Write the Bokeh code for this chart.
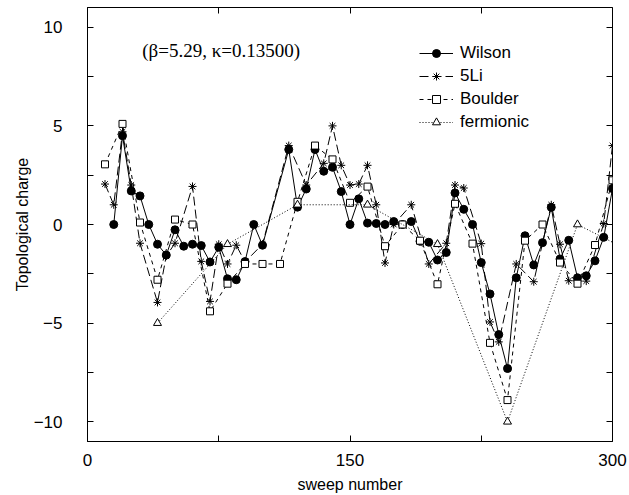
from bokeh.plotting import figure
from bokeh.models import (Range1d, LinearAxis, FixedTicker, Legend, LegendItem, Label)
from bokeh.embed import file_html
from bokeh.resources import INLINE

# ---- data ----
wilson_x = [15, 20, 25, 30, 35, 40, 45, 50, 55, 60, 65, 70, 75, 80, 85, 90, 95, 100,
            115, 120, 125, 130, 135, 140, 145, 150, 155, 160, 165, 170, 175, 180, 185,
            190, 195, 200, 205, 210, 215, 220, 225, 230, 235, 240, 245, 250, 255, 260,
            265, 270, 275, 280, 285, 290, 295, 300]
wilson_y = [0.0, 4.5, 1.7, 1.45, 0.0, -1.0, -1.55, -0.27, -1.1, -1.0, -1.07, -1.9, -1.15,
            -2.75, -2.8, -1.88, 0.0, -1.05,
            3.8, 0.88, 1.8, 3.8, 2.7, 2.9, 1.67, 0.0, 1.3, 0.07, 0.05, 0.0, 0.15, 0.0, 0.15,
            -0.85, -0.9, -1.8, -1.42, 1.6, 0.77, 0.0, -1.93, -3.52, -5.58, -7.3, -2.7,
            -0.57, -2.05, -0.92, 0.87, -1.75, -0.8, -2.7, -2.6, -1.84, -0.65, 1.82]

li5_x = [10, 15, 20, 25, 30, 40, 45, 50, 60, 65, 70, 75, 80, 85, 90, 100, 115, 125,
         135, 140, 145, 150, 155, 160, 165, 170, 175, 185, 195, 205, 210, 215, 225,
         230, 235, 245, 255, 265, 270, 275, 285, 295, 300]
li5_y = [2.05, 1.0, 4.7, 2.0, -0.95, -3.95, -1.6, -0.95, 1.93, -1.87, -3.9, -1.0, -2.0,
         -1.05, -1.9, -1.0, 4.0, 2.0, 3.1, 5.0, 3.0, 2.0, 2.05, 3.0, 1.0, -1.95, 0.0,
         1.0, -2.0, -0.95, 2.0, 1.85, -0.97, -4.94, -5.95, -2.0, -2.9, 1.0, -1.0,
         -2.85, -2.87, 0.05, 4.0]

boulder_x = [10, 20, 30, 40, 50, 60, 70, 80, 90, 100, 110, 120, 130, 140, 150, 160, 170,
             180, 190, 200, 210, 220, 230, 240, 250, 260, 270, 280, 290, 300]
boulder_y = [3.05, 5.1, 0.1, -2.8, 0.25, 0.0, -4.4, -3.0, -2.0, -2.0, -2.0, 1.15, 4.0,
             3.3, 1.1, 1.92, -1.1, 0.0, -0.82, -3.03, 1.05, -0.97, -6.0, -8.9, -0.82,
             0.0, -1.93, -3.0, -1.04, 2.24]

ferm_x = [40, 80, 120, 160, 200, 240, 280, 300]
ferm_y = [-5.0, -1.0, 1.0, 1.0, -1.0, -10.0, 0.0, -0.9]

x_major = [0, 150, 300]
x_minor = [75, 225]
y_major = [-10, -5, 0, 5, 10]
y_minor = [-7.5, -2.5, 2.5, 7.5]

FONT = "Liberation Sans"

p = figure(width=629, height=495, x_range=Range1d(0, 300), y_range=Range1d(-11, 11),
           output_backend="svg", toolbar_location=None,
           min_border_left=87, min_border_right=17, min_border_top=7, min_border_bottom=51)
p.xgrid.visible = False
p.ygrid.visible = False
p.outline_line_color = "black"
p.outline_line_alpha = 1.0
p.outline_line_width = 1
p.background_fill_color = "white"
p.border_fill_color = "white"

def style_axis(ax, ticks, minor, show_labels=True):
    ax.ticker = FixedTicker(ticks=ticks, minor_ticks=minor)
    ax.major_tick_in = 6
    ax.major_tick_out = 0
    ax.minor_tick_in = 6
    ax.minor_tick_out = 0
    ax.major_tick_line_color = "black"
    ax.minor_tick_line_color = "black"
    ax.axis_line_color = "black"
    ax.major_label_text_font = FONT
    ax.major_label_text_font_size = "17px"
    ax.major_label_text_color = "black"
    ax.axis_label_text_font = FONT
    ax.axis_label_text_font_size = "16px"
    ax.axis_label_text_font_style = "normal"
    ax.axis_label_text_color = "black"
    if not show_labels:
        ax.major_label_overrides = {t: "" for t in ticks}
        ax.major_label_standoff = 0
        ax.axis_line_color = None

xa = p.xaxis[0]
style_axis(xa, x_major, x_minor)
xa.axis_label = "sweep number"
xa.major_label_standoff = 12
xa.axis_label_standoff = 7

ya = p.yaxis[0]
style_axis(ya, y_major, y_minor)
ya.axis_label = "Topological charge"
ya.major_label_standoff = 25
ya.axis_label_standoff = 0

top = LinearAxis()
style_axis(top, x_major, x_minor, show_labels=False)
p.add_layout(top, "above")
right = LinearAxis()
style_axis(right, y_major, y_minor, show_labels=False)
p.add_layout(right, "right")

# series
wl = p.line(wilson_x, wilson_y, line_color="black", line_width=1)
ws = p.scatter(wilson_x, wilson_y, marker="circle", size=8, fill_color="black", line_color="black")

ll = p.line(li5_x, li5_y, line_color="black", line_width=1, line_dash="9 4")
ls = p.scatter(li5_x, li5_y, marker="asterisk", size=8, line_color="black", line_width=1)

bl = p.line(boulder_x, boulder_y, line_color="black", line_width=1, line_dash="4 4")
bs = p.scatter(boulder_x, boulder_y, marker="square", size=7, fill_color="white", line_color="black")

fl = p.line(ferm_x, ferm_y, line_color="black", line_width=1, line_dash="1 2")
fs = p.scatter(ferm_x[:-1], ferm_y[:-1], marker="triangle", size=8, fill_color="white", line_color="black")

legend = Legend(items=[
    LegendItem(label="Wilson", renderers=[wl, ws]),
    LegendItem(label="5Li", renderers=[ll, ls]),
    LegendItem(label="Boulder", renderers=[bl, bs]),
    LegendItem(label="fermionic", renderers=[fl, fs]),
], location=(332, 309), glyph_width=34, glyph_height=20, label_height=20,
   label_width=60, spacing=3, padding=0, margin=0, label_standoff=7,
   border_line_color=None, background_fill_alpha=0,
   label_text_font=FONT, label_text_font_size="17px", label_text_color="black")
p.add_layout(legend, "center")

note = Label(x=31.3, y=8.8, text="(\u03b2=5.29, \u03ba=0.13500)", text_font="Liberation Serif",
             text_font_size="19px", text_baseline="middle", text_color="black")
p.add_layout(note)

open("out.html", "w").write(file_html(p, INLINE))
